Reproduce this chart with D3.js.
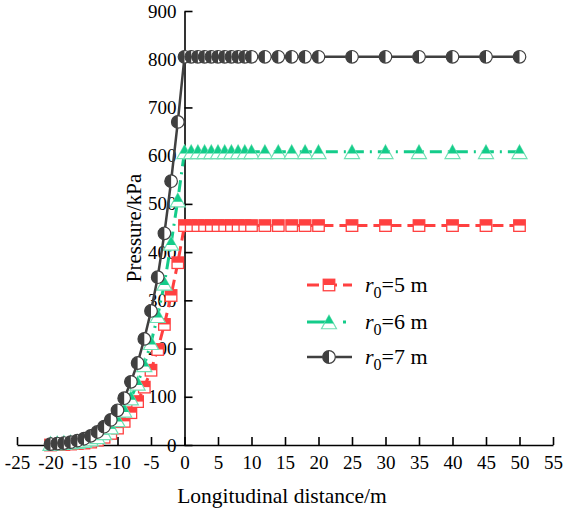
<!DOCTYPE html>
<html><head><meta charset="utf-8">
<script src="https://cdn.jsdelivr.net/npm/d3@7"></script>
<style>body{margin:0;background:#fff}svg{display:block}</style>
</head><body>
<svg id="c" width="564" height="515"></svg>
<script>
const xDist = [-20,-19,-18,-17,-16,-15,-14,-13,-12,-11,-10,-9,-8,-7,-6,-5,-4,-3,-2,-1,0,1,2,3,4,5,6,7,8,9,10,12,14,16,18,20,25,30,35,40,45,50];
const pR5 = [0,1,1,2,3,4,6,10,16,24,35,49,67,90,120,155,198,250,310,378,455,455,455,455,455,455,455,455,455,455,455,455,455,455,455,455,455,455,455,455,455,455];
const pR6 = [3,4,5,6,7,9,12,17,25,37,52,72,97,128,166,212,268,335,418,508,608,608,608,608,608,608,608,608,608,608,608,608,608,608,608,608,608,608,608,608,608,608];
const pR7 = [2,3,4,6,9,13,19,27,38,52,72,97,131,170,220,278,348,439,547,670,805,805,805,805,805,805,805,805,805,805,805,805,805,805,805,805,805,805,805,805,805,805];
const xTicks = [-25,-20,-15,-10,-5,0,5,10,15,20,25,30,35,40,45,50,55];
const yTicks = [0,100,200,300,400,500,600,700,800,900];
const seriesNames = ["5","6","7"];

const svg = d3.select("#c");
const x = d3.scaleLinear().domain([-25,55]).range([17,553]);
const y = d3.scaleLinear().domain([0,900]).range([445,11]);
const font = "'Liberation Serif','Times New Roman',serif";

const series = [
  {name: seriesNames[0], vals: pR5, color:"#ff4040", dash:"11,6", marker:"square"},
  {name: seriesNames[1], vals: pR6, color:"#14cc8a", dash:"12,6,2,6", marker:"triangle"},
  {name: seriesNames[2], vals: pR7, color:"#404040", dash:null, marker:"circle"}
];

function drawMarker(g, type, color){
  if(type==="square"){
    const s=11.5;
    g.append("rect").attr("x",-s/2).attr("y",-s/2).attr("width",s).attr("height",s)
      .attr("fill","#fff").attr("stroke",color).attr("stroke-width",1.3);
    g.append("rect").attr("x",-s/2).attr("y",-s/2).attr("width",s).attr("height",s/2)
      .attr("fill",color);
  } else if(type==="triangle"){
    const w=15,h=13.5;
    g.append("path").attr("d",`M0,${-h/2}L${w/2},${h/2}L${-w/2},${h/2}Z`)
      .attr("fill","#fff").attr("stroke","#6fe0b4").attr("stroke-width",1.2);
    const f=0.62;
    g.append("path").attr("d",`M0,${-h/2}L${w/2*f},${-h/2+h*f}L${-w/2*f},${-h/2+h*f}Z`)
      .attr("fill",color);
  } else {
    const r=6.3;
    g.append("circle").attr("r",r).attr("fill","#fff").attr("stroke",color).attr("stroke-width",1.2);
    g.append("path").attr("d",`M0,${-r}A${r},${r} 0 0 0 0,${r}Z`).attr("fill",color);
  }
}

// axes
const xAxis = d3.axisBottom(x).tickValues(xTicks).tickSizeInner(-8).tickSizeOuter(0).tickPadding(11).tickFormat(d=>String(d));
const gx = svg.append("g").attr("transform",`translate(0,${y(0)})`).call(xAxis);
const yAxis = d3.axisLeft(y).tickValues(yTicks).tickSizeInner(-8).tickSizeOuter(0).tickPadding(8).tickFormat(d=>String(d));
const gy = svg.append("g").attr("transform",`translate(${x(0)},0)`).call(yAxis);
[gx,gy].forEach(g=>{
  g.selectAll("path.domain").attr("stroke","#000").attr("stroke-width",1.6);
  g.selectAll(".tick line").attr("stroke","#000").attr("stroke-width",1.6);
  g.selectAll("text").attr("font-family",font).attr("font-size",19).attr("fill","#000");
});

// series
const line = d3.line().x((d,i)=>x(xDist[i])).y(d=>y(d));
series.forEach(s=>{
  svg.append("path").datum(s.vals).attr("d",line).attr("fill","none")
    .attr("stroke",s.color).attr("stroke-width",s.marker==="circle"?2.5:3)
    .attr("stroke-dasharray",s.dash);
  const mg = svg.append("g");
  s.vals.forEach((v,i)=>{
    const g = mg.append("g").attr("transform",`translate(${x(xDist[i])},${y(v)})`);
    drawMarker(g,s.marker,s.color);
  });
});

// legend
const legY=[285,322,357];
series.forEach((s,i)=>{
  const g=svg.append("g").attr("transform",`translate(0,${legY[i]})`);
  g.append("line").attr("x1",307).attr("x2",352).attr("y1",0).attr("y2",0)
    .attr("stroke",s.color).attr("stroke-width",s.marker==="circle"?2.5:3)
    .attr("stroke-dasharray",s.marker==="square"?"12,6":(s.marker==="triangle"?"24,12,3,12":null));
  const mg=g.append("g").attr("transform","translate(329,0)");
  drawMarker(mg,s.marker,s.color);
  const t=g.append("text").attr("x",365).attr("y",7).attr("font-family",font).attr("font-size",22).attr("fill","#000");
  t.append("tspan").attr("font-style","italic").text("r");
  t.append("tspan").attr("font-size",16).attr("dy",6).text("0");
  t.append("tspan").attr("dy",-6).text("="+s.name+" m");
});

// axis titles
svg.append("text").attr("x",282).attr("y",503).attr("text-anchor","middle")
  .attr("font-family",font).attr("font-size",21.5).attr("fill","#000").text("Longitudinal distance/m");
svg.append("text").attr("transform","translate(141,228) rotate(-90)").attr("text-anchor","middle")
  .attr("font-family",font).attr("font-size",21).attr("fill","#000").text("Pressure/kPa");
</script>
</body></html>
